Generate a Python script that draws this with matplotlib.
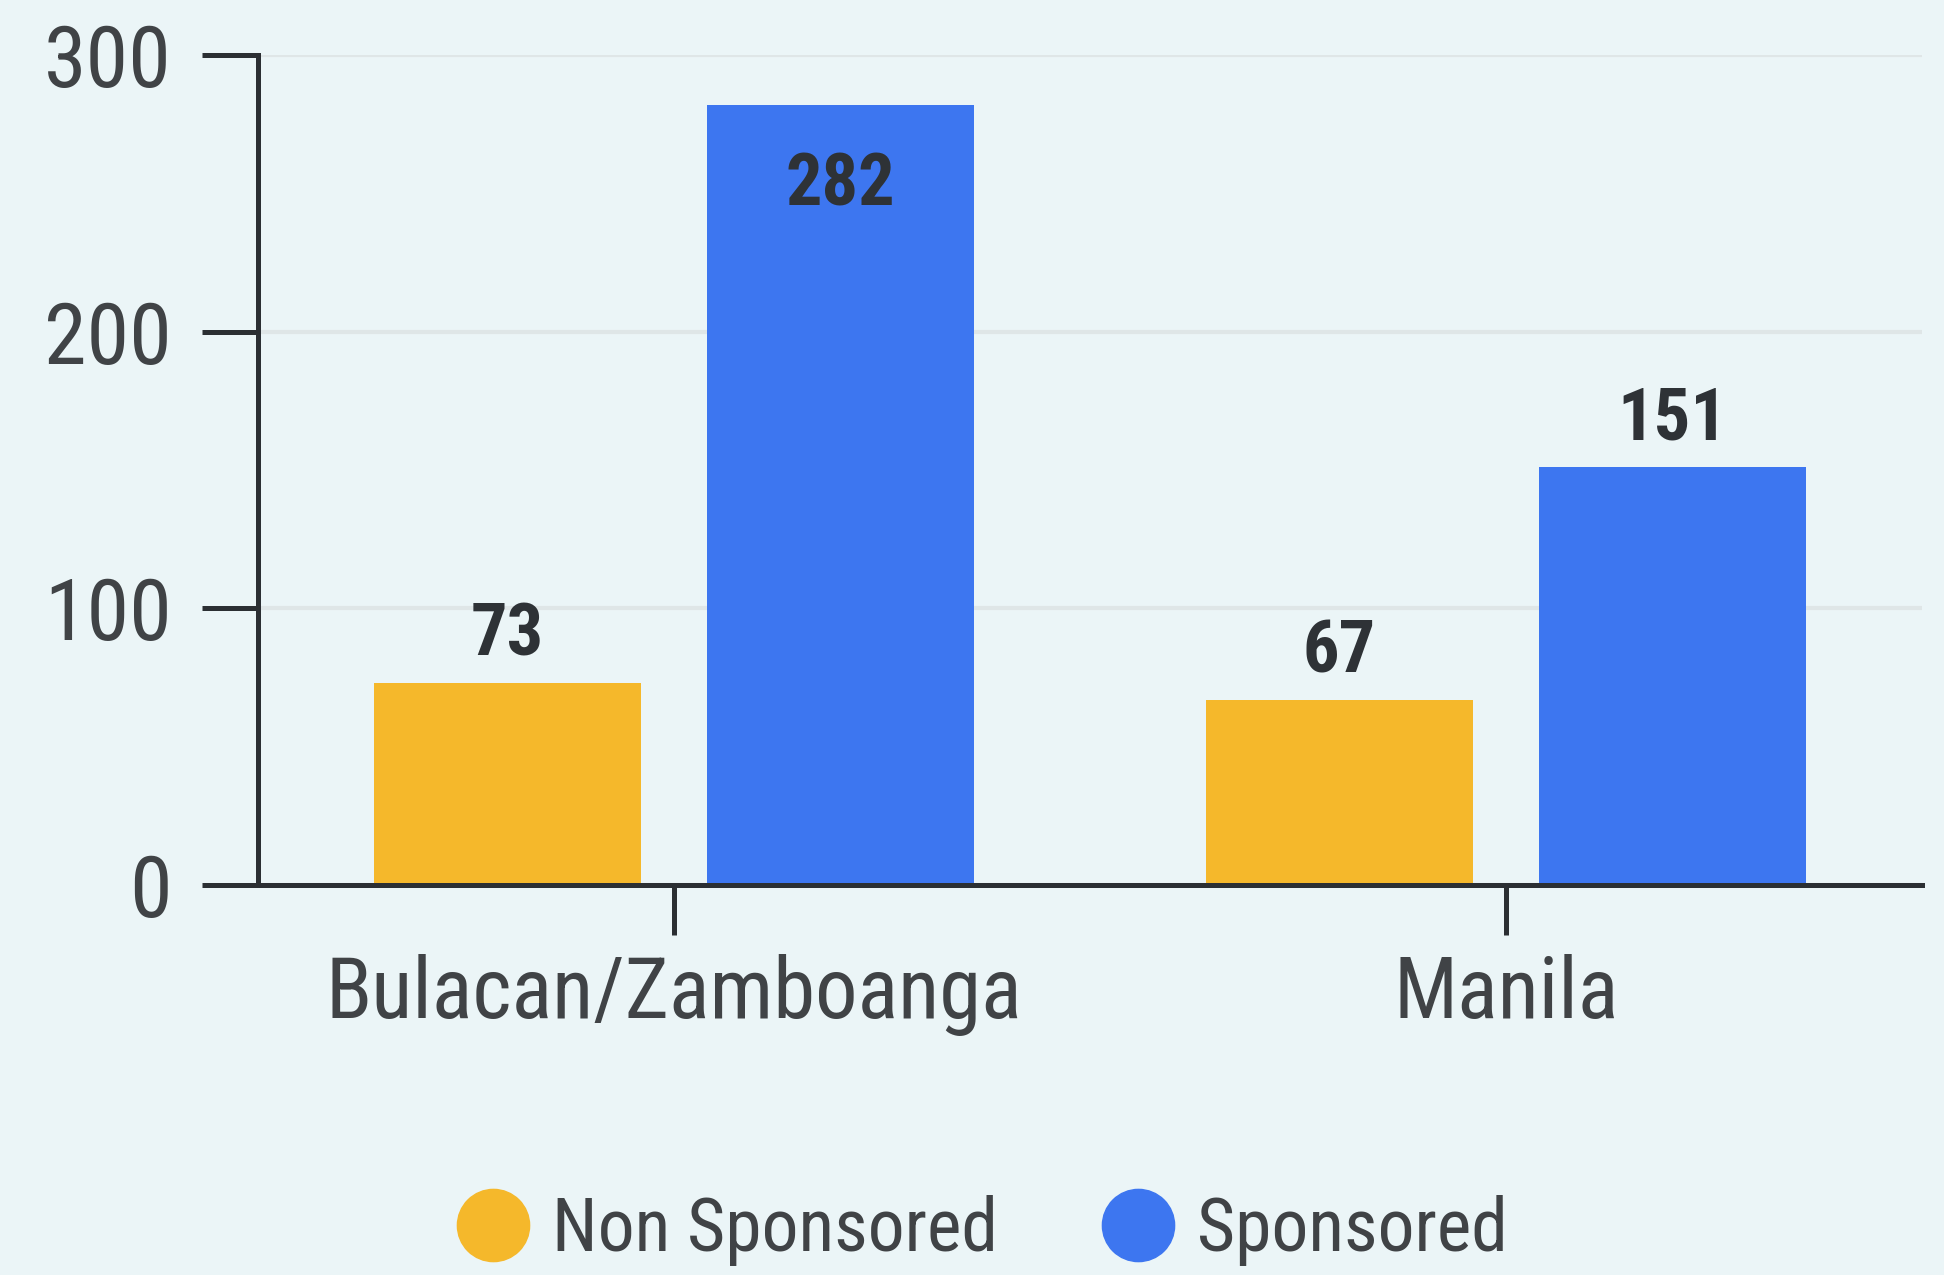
import matplotlib
matplotlib.use("Agg")
import matplotlib.pyplot as plt
from matplotlib import font_manager
from matplotlib.lines import Line2D
import numpy as np

categories = ["Bulacan/Zamboanga", "Manila"]
non_sponsored = [73, 67]
sponsored = [282, 151]
series_names = ["Non Sponsored", "Sponsored"]
y_ticks = [0, 100, 200, 300]

# font: prefer a condensed face
names = {f.name for f in font_manager.fontManager.ttflist}
family = "Roboto"
for cand in ["Roboto Condensed", "Liberation Sans Narrow", "Roboto"]:
    if cand in names:
        family = cand
        break
plt.rcParams["font.family"] = [family, "DejaVu Sans"]

bg = "#ebf5f7"
yellow = "#f5b82b"
blue = "#3d76f0"
dark = "#2b2f33"
gray_txt = "#404346"

fig = plt.figure(figsize=(19.44, 12.75), dpi=100, facecolor=bg)
ax = fig.add_axes([0.1327, 0.3059, 0.8560, 0.6510], facecolor=bg)

x = np.arange(len(categories))
w = 0.32
off = 0.2
b1 = ax.bar(x - off, non_sponsored, w, color=yellow, zorder=3)
b2 = ax.bar(x + off, sponsored, w, color=blue, zorder=3)

ax.set_xlim(-0.5, 1.5)
ax.set_ylim(0, 300)
ax.set_yticks(y_ticks)
ax.set_xticks(x)
ax.set_xticklabels(categories)

for s in ["top", "right"]:
    ax.spines[s].set_visible(False)
for s in ["left", "bottom"]:
    ax.spines[s].set_color(dark)
    ax.spines[s].set_linewidth(3.6)
    ax.spines[s].set_zorder(4)

ax.tick_params(axis="y", length=40, width=3.6, color=dark, pad=22,
               labelsize=62, labelcolor=gray_txt)
ax.tick_params(axis="x", length=36, width=3.6, color=dark, pad=14,
               labelsize=61, labelcolor=gray_txt)

ax.yaxis.grid(True, color="#dfe6e7", linewidth=3, zorder=0)
ax.set_axisbelow(True)

# value labels
for bars, vals in [(b1, non_sponsored), (b2, sponsored)]:
    for rect, v in zip(bars, vals):
        cx = rect.get_x() + rect.get_width() / 2
        if v > 250:
            ax.annotate(str(v), (cx, v), xytext=(0, -34), textcoords="offset points",
                        ha="center", va="top", fontsize=52, fontweight="bold", color="#2e3236")
        else:
            ax.annotate(str(v), (cx, v), xytext=(0, 9), textcoords="offset points",
                        ha="center", va="bottom", fontsize=52, fontweight="bold", color="#2e3236")

handles = [Line2D([], [], marker="o", linestyle="none", markersize=52, color=c)
           for c in [yellow, blue]]
fig.legend(handles, series_names, loc="center", bbox_to_anchor=(0.505, 0.035),
           ncol=2, frameon=False, fontsize=53, labelcolor=gray_txt,
           handlelength=1.0, handletextpad=0.3, columnspacing=1.4)

fig.savefig("out.png", dpi=100, facecolor=bg)
